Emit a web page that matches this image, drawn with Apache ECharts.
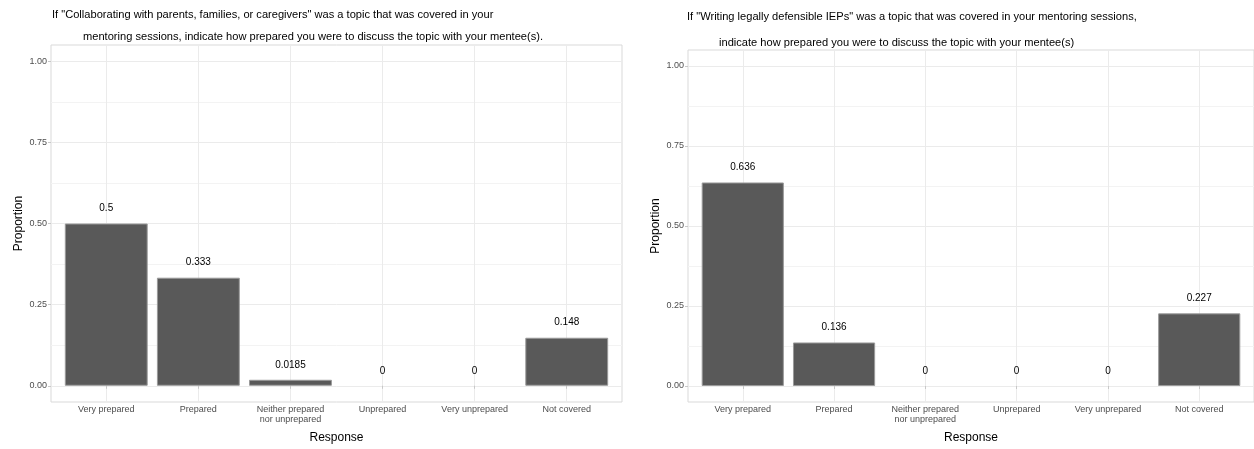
<!DOCTYPE html>
<html><head><meta charset="utf-8">
<script src="https://cdn.jsdelivr.net/npm/echarts@6/dist/echarts.min.js"></script>
<style>html,body{margin:0;padding:0;background:#fff}#c{width:1254px;height:449px}</style>
</head><body><div id="c"></div>
<script>
// ---- data ----
const categories = ['Very prepared', 'Prepared', 'Neither prepared\nnor unprepared', 'Unprepared', 'Very unprepared', 'Not covered'];
const collaboratingValues = [0.5, 0.333, 0.0185, 0, 0, 0.148];
const iepValues = [0.636, 0.136, 0, 0, 0, 0.227];
const yMajorTicks = [0, 0.25, 0.5, 0.75, 1];
const yMinorTicks = [0.125, 0.375, 0.625, 0.875];
const yTickLabels = ['0.00', '0.25', '0.50', '0.75', '1.00'];
const titleLeftLines = ['If "Collaborating with parents, families, or caregivers" was a topic that was covered in your',
  'mentoring sessions, indicate how prepared you were to discuss the topic with your mentee(s).'];
const titleRightLines = ['If "Writing legally defensible IEPs" was a topic that was covered in your mentoring sessions,',
  'indicate how prepared you were to discuss the topic with your mentee(s)'];
const xAxisTitle = 'Response';
const yAxisTitle = 'Proportion';

// ---- layout ----
const FONT = '"Liberation Sans", Arial, sans-serif';
const TITLE_SIZE = 11.1;
const panels = [
  { grid: { left: 51, top: 45, width: 571, height: 357 }, values: collaboratingValues,
    titles: [{ left: 52, top: 9 }, { left: 83, top: 31.5 }], lines: titleLeftLines },
  { grid: { left: 688, top: 50, width: 566, height: 352 }, values: iepValues,
    titles: [{ left: 687, top: 11.5 }, { left: 719, top: 37.5 }], lines: titleRightLines }
];
const positions = categories.map((c, i) => i + 1);

const option = { animation: false, backgroundColor: '#ffffff', title: [], grid: [], xAxis: [], yAxis: [], series: [] };

panels.forEach((p, pi) => {
  p.titles.forEach((t, li) => {
    option.title.push({ text: p.lines[li], left: t.left, top: t.top, padding: 0,
      textStyle: { fontFamily: FONT, fontSize: TITLE_SIZE, fontWeight: 'normal', color: '#000' } });
  });
  option.grid.push(Object.assign({ show: true, borderColor: '#d9d9d9', borderWidth: 1, backgroundColor: 'transparent' }, p.grid));
  option.xAxis.push({
    type: 'value', gridIndex: pi, min: 0.4, max: 6.6,
    name: xAxisTitle, nameLocation: 'middle', nameGap: 30,
    nameTextStyle: { fontFamily: FONT, fontSize: 12, color: '#000' },
    axisLine: { show: false },
    axisTick: { show: true, length: 3, lineStyle: { color: '#c8c8c8' }, customValues: positions },
    axisLabel: { customValues: positions, margin: 3, fontFamily: FONT, fontSize: 9, color: '#4d4d4d', lineHeight: 10,
      formatter: v => categories[Math.round(v) - 1] || '' },
    splitLine: { show: true, lineStyle: { color: '#ebebeb', width: 1 } }
  });
  option.yAxis.push({
    type: 'value', gridIndex: pi, min: -0.05, max: 1.05,
    name: yAxisTitle, nameLocation: 'middle', nameGap: 26, nameRotate: 90,
    nameTextStyle: { fontFamily: FONT, fontSize: 12, color: '#000' },
    axisLine: { show: false },
    axisTick: { show: true, length: 3, lineStyle: { color: '#c8c8c8' }, customValues: yMajorTicks },
    axisLabel: { customValues: yMajorTicks, margin: 4, fontFamily: FONT, fontSize: 9, color: '#4d4d4d',
      formatter: v => yTickLabels[yMajorTicks.indexOf(v)] ?? '' },
    splitLine: { show: true, lineStyle: { color: '#ebebeb', width: 1 } }
  });
  option.yAxis.push({
    type: 'value', gridIndex: pi, min: -0.05, max: 1.05, position: 'left',
    axisLine: { show: false },
    axisTick: { show: false, customValues: yMinorTicks },
    axisLabel: { show: false, customValues: yMinorTicks },
    splitLine: { show: true, lineStyle: { color: '#f3f3f3', width: 1 } }
  });
  const bandPx = p.grid.width / 6.2;
  option.series.push({
    type: 'bar', xAxisIndex: pi, yAxisIndex: pi * 2,
    barWidth: bandPx * 0.9,
    data: p.values.map((v, i) => ({ value: [positions[i], v],
      itemStyle: { borderWidth: v > 0 ? 1 : 0 } })),
    itemStyle: { color: '#595959', borderColor: '#9a9a9a', borderWidth: 1 },
    label: { show: true, position: 'top', distance: 10, fontFamily: FONT, fontSize: 10, color: '#000',
      formatter: d => String(d.value[1]) }
  });
});

const chart = echarts.init(document.getElementById('c'), null, { renderer: 'canvas' });
chart.setOption(option);
</script>
</body></html>
